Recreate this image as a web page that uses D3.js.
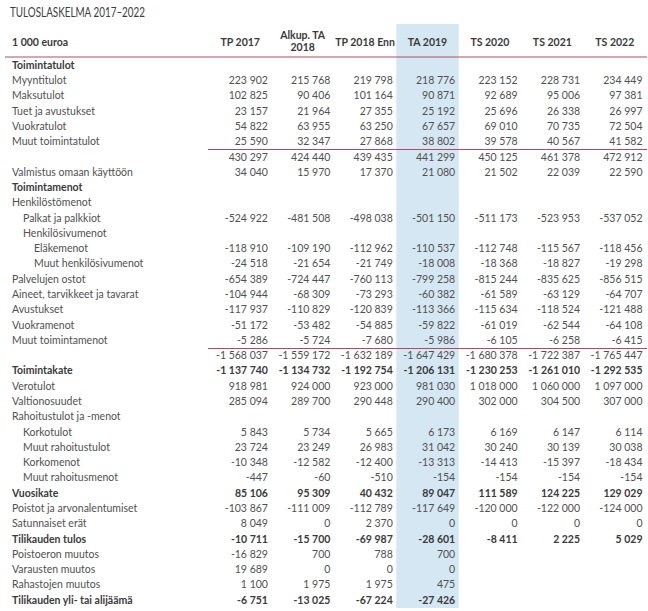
<!DOCTYPE html>
<html>
<head>
<meta charset="utf-8">
<script src="https://cdn.jsdelivr.net/npm/d3@7"></script>
<style>
  html, body { margin: 0; padding: 0; background: #fff; }
  svg { display: block; font-family: Lato, "Open Sans", sans-serif; }
</style>
</head>
<body>
<svg id="chart" width="648" height="611"></svg>
<script>
const title = "TULOSLASKELMA 2017–2022";
const unitLabel = "1 000 euroa";
const columns = ["TP 2017", "Alkup. TA\n2018", "TP 2018 Enn", "TA 2019", "TS 2020", "TS 2021", "TS 2022"];
const highlightColumn = "TA 2019";

const rowLabels = [
  "Toimintatulot", "Myyntitulot", "Maksutulot", "Tuet ja avustukset", "Vuokratulot",
  "Muut toimintatulot", "", "Valmistus omaan käyttöön", "Toimintamenot", "Henkilöstömenot",
  "Palkat ja palkkiot", "Henkilösivumenot", "Eläkemenot", "Muut henkilösivumenot", "Palvelujen ostot",
  "Aineet, tarvikkeet ja tavarat", "Avustukset", "Vuokramenot", "Muut toimintamenot", "",
  "Toimintakate", "Verotulot", "Valtionosuudet", "Rahoitustulot ja -menot", "Korkotulot",
  "Muut rahoitustulot", "Korkomenot", "Muut rahoitusmenot", "Vuosikate", "Poistot ja arvonalentumiset",
  "Satunnaiset erät", "Tilikauden tulos", "Poistoeron muutos", "Varausten muutos", "Rahastojen muutos",
  "Tilikauden yli- tai alijäämä"
];
// hierarchy depth of each row (0 = main item)
const rowDepth = [0,0,0,0,0, 0,0,0,0,0, 1,1,2,2,0, 0,0,0,0,0, 0,0,0,0,1, 1,1,1,0,0, 0,0,0,0,0, 0];
// emphasised (bold) rows
const boldRows = ["Toimintatulot", "Toimintamenot", "Toimintakate", "Vuosikate", "Tilikauden tulos", "Tilikauden yli- tai alijäämä"];
// subtotal rows (preceded by a rule)
const subtotalRows = [6, 19];

const tp2017 = [null, 223902, 102825, 23157, 54822, 25590, 430297, 34040, null, null,
  -524922, null, -118910, -24518, -654389, -104944, -117937, -51172, -5286, -1568037,
  -1137740, 918981, 285094, null, 5843, 23724, -10348, -447, 85106, -103867,
  8049, -10711, -16829, 19689, 1100, -6751];
const alkupTa2018 = [null, 215768, 90406, 21964, 63955, 32347, 424440, 15970, null, null,
  -481508, null, -109190, -21654, -724447, -68309, -110829, -53482, -5724, -1559172,
  -1134732, 924000, 289700, null, 5734, 23249, -12582, -60, 95309, -111009,
  0, -15700, 700, 0, 1975, -13025];
const tp2018Enn = [null, 219798, 101164, 27355, 63250, 27868, 439435, 17370, null, null,
  -498038, null, -112962, -21749, -760113, -73293, -120839, -54885, -7680, -1632189,
  -1192754, 923000, 290448, null, 5665, 26983, -12400, -510, 40432, -112789,
  2370, -69987, 788, 0, 1975, -67224];
const ta2019 = [null, 218776, 90871, 25192, 67657, 38802, 441299, 21080, null, null,
  -501150, null, -110537, -18008, -799258, -60382, -113366, -59822, -5986, -1647429,
  -1206131, 981030, 290400, null, 6173, 31042, -13313, -154, 89047, -117649,
  0, -28601, 700, 0, 475, -27426];
const ts2020 = [null, 223152, 92689, 25696, 69010, 39578, 450125, 21502, null, null,
  -511173, null, -112748, -18368, -815244, -61589, -115634, -61019, -6105, -1680378,
  -1230253, 1018000, 302000, null, 6169, 30240, -14413, -154, 111589, -120000,
  0, -8411, null, null, null, null];
const ts2021 = [null, 228731, 95006, 26338, 70735, 40567, 461378, 22039, null, null,
  -523953, null, -115567, -18827, -835625, -63129, -118524, -62544, -6258, -1722387,
  -1261010, 1060000, 304500, null, 6147, 30139, -15397, -154, 124225, -122000,
  0, 2225, null, null, null, null];
const ts2022 = [null, 234449, 97381, 26997, 72504, 41582, 472912, 22590, null, null,
  -537052, null, -118456, -19298, -856515, -64707, -121488, -64108, -6415, -1765447,
  -1292535, 1097000, 307000, null, 6114, 30038, -18434, -154, 129029, -124000,
  0, 5029, null, null, null, null];
const series = [tp2017, alkupTa2018, tp2018Enn, ta2019, ts2020, ts2021, ts2022];

// ---------------------------------------------------------------
const svg = d3.select("#chart");
const fmt = d3.formatLocale({decimal: ",", thousands: "\u00a0", grouping: [3], currency: ["", " €"], minus: "-"}).format(",d");

const textCol = "#505050", boldCol = "#3a3a3a", ruleCol = "#b24a63", hiCol = "#d5e7f2";
const fontSize = 10.5;

const x = d3.scaleBand().domain(columns).range([209, 646]);
const y = d3.scaleBand().domain(d3.range(rowLabels.length)).range([57.4, 607.5]);
const indent = d3.scaleLinear().domain([0, 1]).range([12, 23]);

// highlight column
svg.append("rect")
  .attr("x", x(columns[3])).attr("y", 24)
  .attr("width", x.bandwidth()).attr("height", 584)
  .attr("fill", hiCol);

// title
svg.append("text").attr("x", 10).attr("y", 17)
  .attr("font-size", 12.5).attr("fill", "#3d3d3d")
  .attr("textLength", 135).attr("lengthAdjust", "spacingAndGlyphs")
  .text(title);

// header
svg.append("text").attr("x", 12).attr("y", 45.5)
  .attr("font-size", fontSize).attr("font-weight", 700).attr("fill", boldCol)
  .text(unitLabel);

const hdr = svg.append("g").selectAll("text").data(columns).join("text")
  .attr("x", d => x(d) + x.bandwidth() / 2)
  .attr("text-anchor", "middle")
  .attr("font-size", fontSize).attr("font-weight", 700).attr("fill", boldCol);
hdr.each(function(d) {
  const lines = d.split("\n");
  const t = d3.select(this);
  const y0 = lines.length > 1 ? 39 : 45.5;
  lines.forEach((ln, i) => t.append("tspan").attr("x", x(d) + x.bandwidth() / 2).attr("y", y0 + i * 11.5).text(ln));
});

svg.append("line").attr("x1", 5).attr("x2", 647).attr("y1", 57).attr("y2", 57)
  .attr("stroke", ruleCol).attr("stroke-width", 1);

// subtotal rules
svg.append("g").selectAll("line").data(subtotalRows).join("line")
  .attr("x1", 208).attr("x2", 647)
  .attr("y1", d => Math.round(y(d)) + 0.5).attr("y2", d => Math.round(y(d)) + 0.5)
  .attr("stroke", ruleCol).attr("stroke-width", 1);

// row labels
svg.append("g").selectAll("text").data(rowLabels).join("text")
  .attr("x", (d, i) => indent(rowDepth[i]))
  .attr("y", (d, i) => y(i) + y.bandwidth() / 2 + 3.8)
  .attr("font-size", fontSize)
  .attr("font-weight", d => boldRows.includes(d) ? 700 : 400)
  .attr("fill", d => boldRows.includes(d) ? boldCol : textCol)
  .text(d => d);

// values
series.forEach((vals, c) => {
  const col = columns[c];
  svg.append("g").selectAll("text")
    .data(vals.map((v, i) => ({v, i})).filter(d => d.v !== null))
    .join("text")
    .attr("x", x(col) + x.bandwidth() - 3.5)
    .attr("y", d => y(d.i) + y.bandwidth() / 2 + 3.8)
    .attr("text-anchor", "end")
    .attr("font-size", fontSize)
    .attr("font-weight", d => boldRows.includes(rowLabels[d.i]) ? 700 : 400)
    .attr("fill", d => boldRows.includes(rowLabels[d.i]) ? boldCol : textCol)
    .text(d => fmt(d.v));
});
</script>
</body>
</html>
